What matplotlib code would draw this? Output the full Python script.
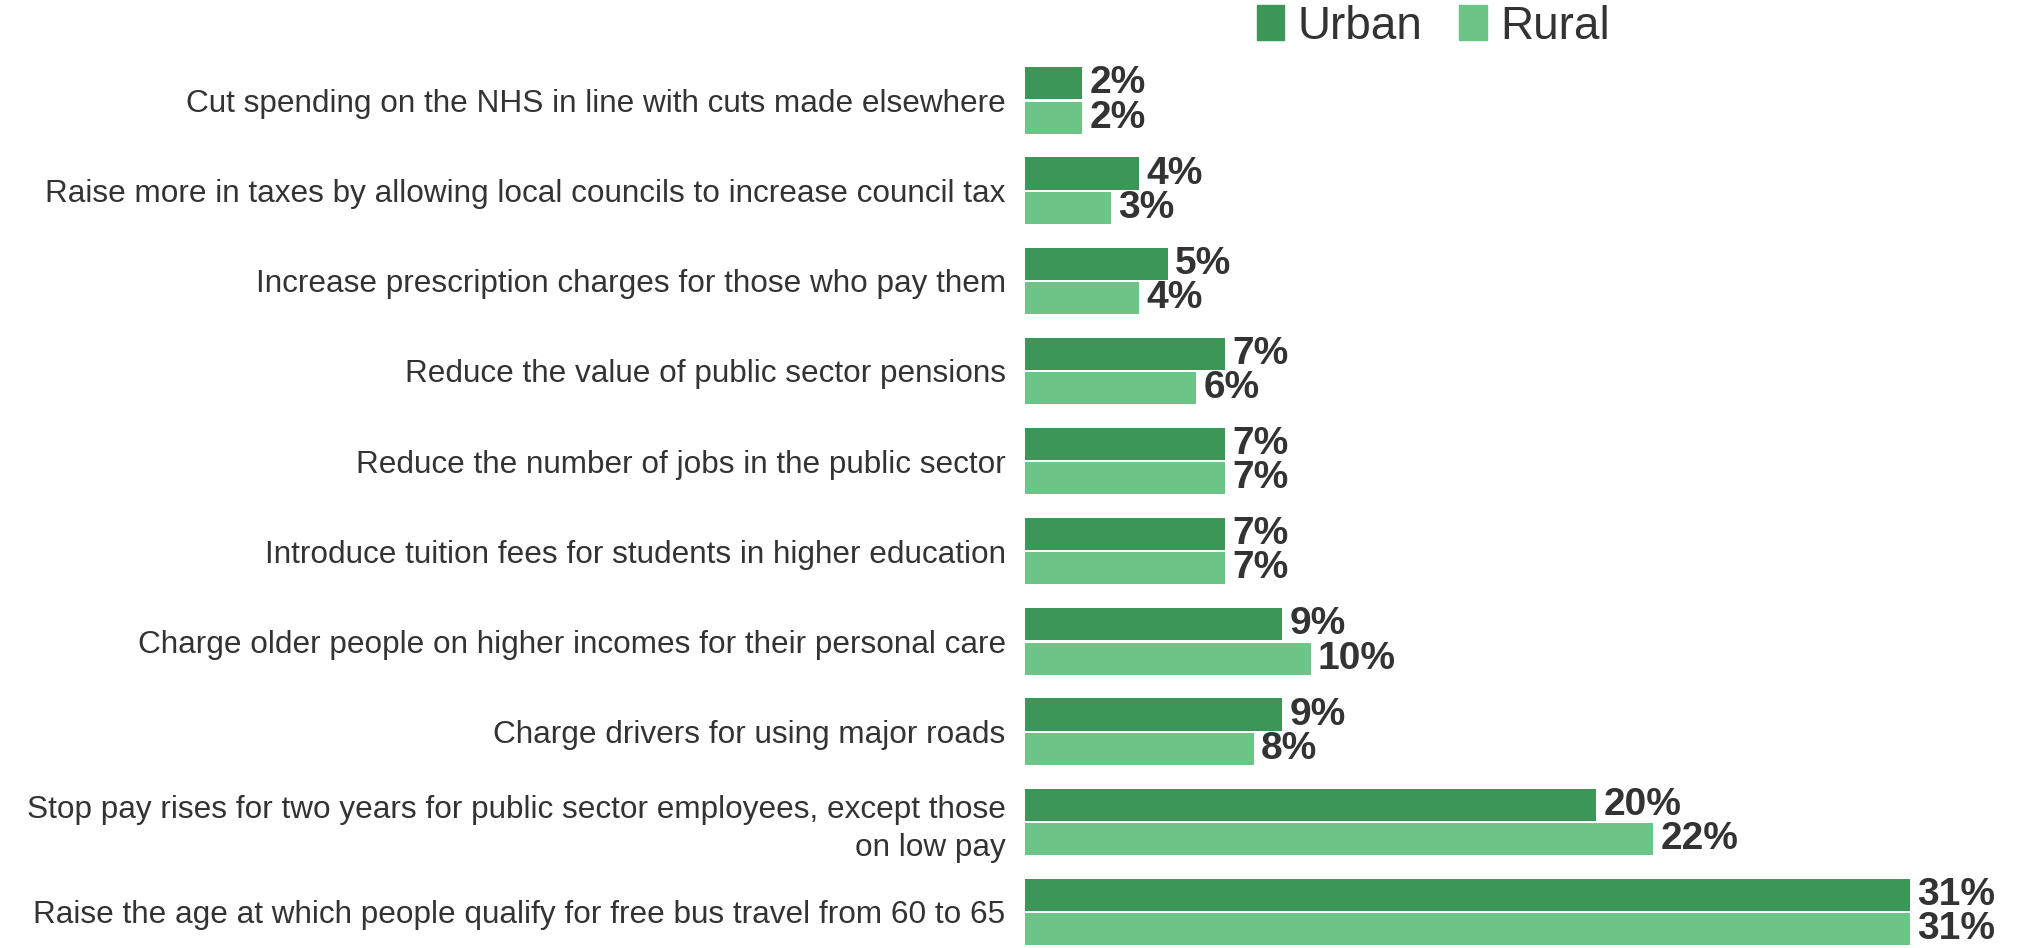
import numpy as np
import matplotlib
matplotlib.use('Agg')
import matplotlib.pyplot as plt
from matplotlib.patches import Patch

plt.rcParams['font.family'] = ['Liberation Sans', 'DejaVu Sans']

categories = [
    "Cut spending on the NHS in line with cuts made elsewhere",
    "Raise more in taxes by allowing local councils to increase council tax",
    "Increase prescription charges for those who pay them",
    "Reduce the value of public sector pensions",
    "Reduce the number of jobs in the public sector",
    "Introduce tuition fees for students in higher education",
    "Charge older people on higher incomes for their personal care",
    "Charge drivers for using major roads",
    "Stop pay rises for two years for public sector employees, except those\non low pay",
    "Raise the age at which people qualify for free bus travel from 60 to 65",
]
urban = [2, 4, 5, 7, 7, 7, 9, 9, 20, 31]
rural = [2, 3, 4, 6, 7, 7, 10, 8, 22, 31]

c_urban = '#3c9657'
c_rural = '#6cc586'
txt = '#333333'

fig = plt.figure(figsize=(20.22, 9.48), dpi=100)
ax = fig.add_axes([0.507, 0.003, 0.483, 0.926])

y = np.arange(len(categories))
h = 0.356
ax.barh(y - 0.19, urban, height=h, color=c_urban)
ax.barh(y + 0.19, rural, height=h, color=c_rural)

# etiquetas de valor
for i in range(len(categories)):
    ax.text(urban[i] + 0.25, y[i] - 0.19, f"{urban[i]}%", va='center', ha='left',
            fontsize=28, fontweight='bold', color=txt)
    ax.text(rural[i] + 0.25, y[i] + 0.19, f"{rural[i]}%", va='center', ha='left',
            fontsize=28, fontweight='bold', color=txt)

ax.set_yticks(y)
ax.set_yticklabels(categories, fontsize=22.7, color=txt, linespacing=1.35)
ax.tick_params(axis='y', length=0, pad=14)
ax.set_ylim(9.368, -0.368)
ax.set_xlim(0, 34.2)
ax.set_xticks([])
for s in ax.spines.values():
    s.set_visible(False)

handles = [Patch(color=c_urban, label='Urban'), Patch(color=c_rural, label='Rural')]
fig.legend(handles=handles, loc='center', bbox_to_anchor=(0.709, 0.972), ncol=2,
           frameon=False, fontsize=33, handlelength=0.6, handleheight=0.8,
           handletextpad=0.3, columnspacing=0.8, labelcolor=txt)

fig.savefig('out.png', dpi=100)
